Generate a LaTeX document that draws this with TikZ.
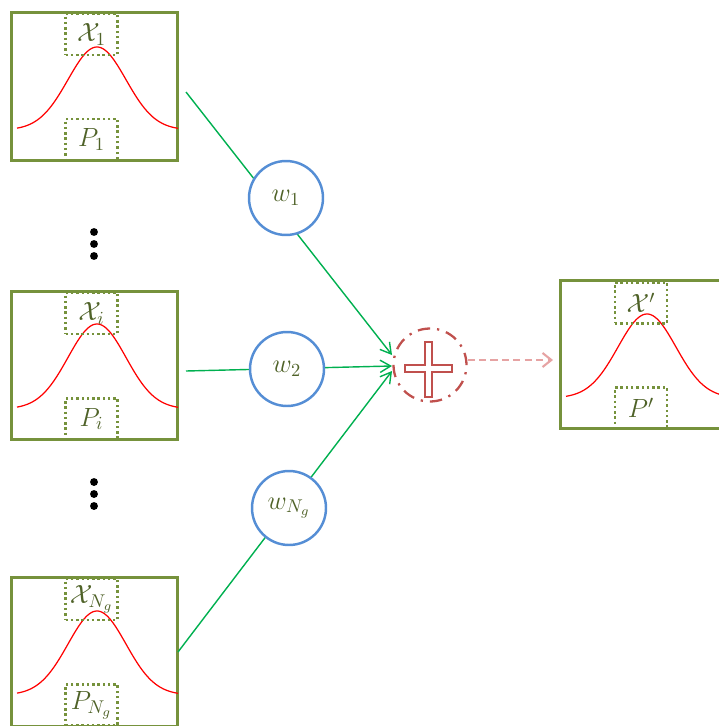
\RequirePackage{fix-cm}
\documentclass[tikz,border=0pt]{standalone}
\usetikzlibrary{arrows.meta}
\definecolor{boxgreen}{HTML}{76923C}
\definecolor{txtgreen}{HTML}{4F6228}
\definecolor{cblue}{HTML}{558ED5}
\definecolor{lgreen}{HTML}{00B050}
\definecolor{dred}{HTML}{C0504D}
\definecolor{lred}{HTML}{E6A3A3}
\tikzset{
  gbox/.style={draw=boxgreen, line width=1.7pt, minimum width=3.34cm, minimum height=2.98cm, inner sep=0pt, outer sep=0pt},
  dbox/.style={draw=boxgreen, line width=1.4pt, dash pattern=on 1.4pt off 1.6pt, minimum width=1.04cm, minimum height=0.82cm, inner sep=0pt, text=txtgreen, font=\fontsize{15}{17}\selectfont},
  wcirc/.style={circle, draw=cblue, line width=1.4pt, fill=white, minimum size=1.48cm, inner sep=0pt, text=txtgreen, font=\fontsize{15}{17}\selectfont},
  gline/.style={draw=lgreen, line width=0.8pt},
  garrow/.style={gline, -{Straight Barb[length=6pt,width=7pt]}},
  gauss/.style={red, line width=0.7pt},
  vdot/.style={circle, fill=black, minimum size=4.5pt, inner sep=0pt},
}
\begin{document}
\begin{tikzpicture}[x=0.02cm, y=-0.02cm]
\useasboundingbox (0,0) rectangle (719,726);
\clip (0,0) rectangle (719,726);
% boxes
\node[gbox] (b1) at (94.5,86.5) {};
\node[gbox] (b2) at (94.5,365.5) {};
\node[gbox] (b3) at (94.5,651.5) {};
\node[gbox] (bo) at (643.5,354.5) {};
% gaussians
\draw[gauss] plot[domain=17:178, samples=90, smooth] (\x, {130-83*exp(-((\x-97)/29)^2/2)});
\draw[gauss] plot[domain=17:178, samples=90, smooth] (\x, {409-85*exp(-((\x-97)/29)^2/2)});
\draw[gauss] plot[domain=17:178, samples=90, smooth] (\x, {695-84*exp(-((\x-97)/29)^2/2)});
\draw[gauss] plot[domain=566:725, samples=90, smooth] (\x, {398-84*exp(-((\x-647)/29)^2/2)});
% dotted boxes with labels
\node[dbox] (x1) at (91.5,34.5) {$\mathcal{X}_1$};
\node[dbox] (p1) at (91.5,139.5) {$P_1$};
\node[dbox] (xi) at (91.5,313.5) {$\mathcal{X}_i$};
\node[dbox] (pi) at (91.5,419) {$P_i$};
\node[dbox] (xn) at (91.5,599.5) {$\mathcal{X}_{N_g}$};
\node[dbox] (pn) at (91.5,705) {$P_{N_g}$};
\node[dbox] (xo) at (641,303) {$\mathcal{X}'$};
\node[dbox] (po) at (641,408) {$P'$};
% vertical dots
\node[vdot] (d1) at (94,232) {};
\node[vdot] (d2) at (94,244) {};
\node[vdot] (d3) at (94,256) {};
\node[vdot] (d4) at (94,482) {};
\node[vdot] (d5) at (94,494) {};
\node[vdot] (d6) at (94,506) {};
% connectors
\coordinate (s1) at (186,92);
\coordinate (s2) at (186,371);
\coordinate (s3) at (178,652);
\coordinate (e1) at (392,355);
\coordinate (e2) at (392,366);
\coordinate (e3) at (392,371);
\draw[garrow] (s1) -- (e1);
\draw[garrow] (s2) -- (e2);
\draw[garrow] (s3) -- (e3);
% weight circles
\node[wcirc] (w1) at (286,198) {$w_1$};
\node[wcirc] (w2) at (287,369) {$w_2$};
\node[wcirc] (wn) at (289,508) {$w_{N_g}$};
% sum
\node[circle, draw=dred, line width=1.3pt, dash pattern=on 7pt off 4pt on 1.3pt off 4pt, minimum size=1.46cm, inner sep=0pt] (sum) at (430,365) {};
\draw[dred, line width=1.2pt, fill=white] (405,365) -- (425,365) -- (425,342) -- (432,342) -- (432,365) -- (452,365) -- (452,372) -- (432,372) -- (432,397) -- (425,397) -- (425,372) -- (405,372) -- cycle;
\coordinate (oa) at (553,360);
\draw[lred, line width=1.2pt, dash pattern=on 4pt off 2.5pt, -{Straight Barb[length=5pt,width=8pt]}] (sum.east |- oa) -- (oa);
\end{tikzpicture}
\end{document}
